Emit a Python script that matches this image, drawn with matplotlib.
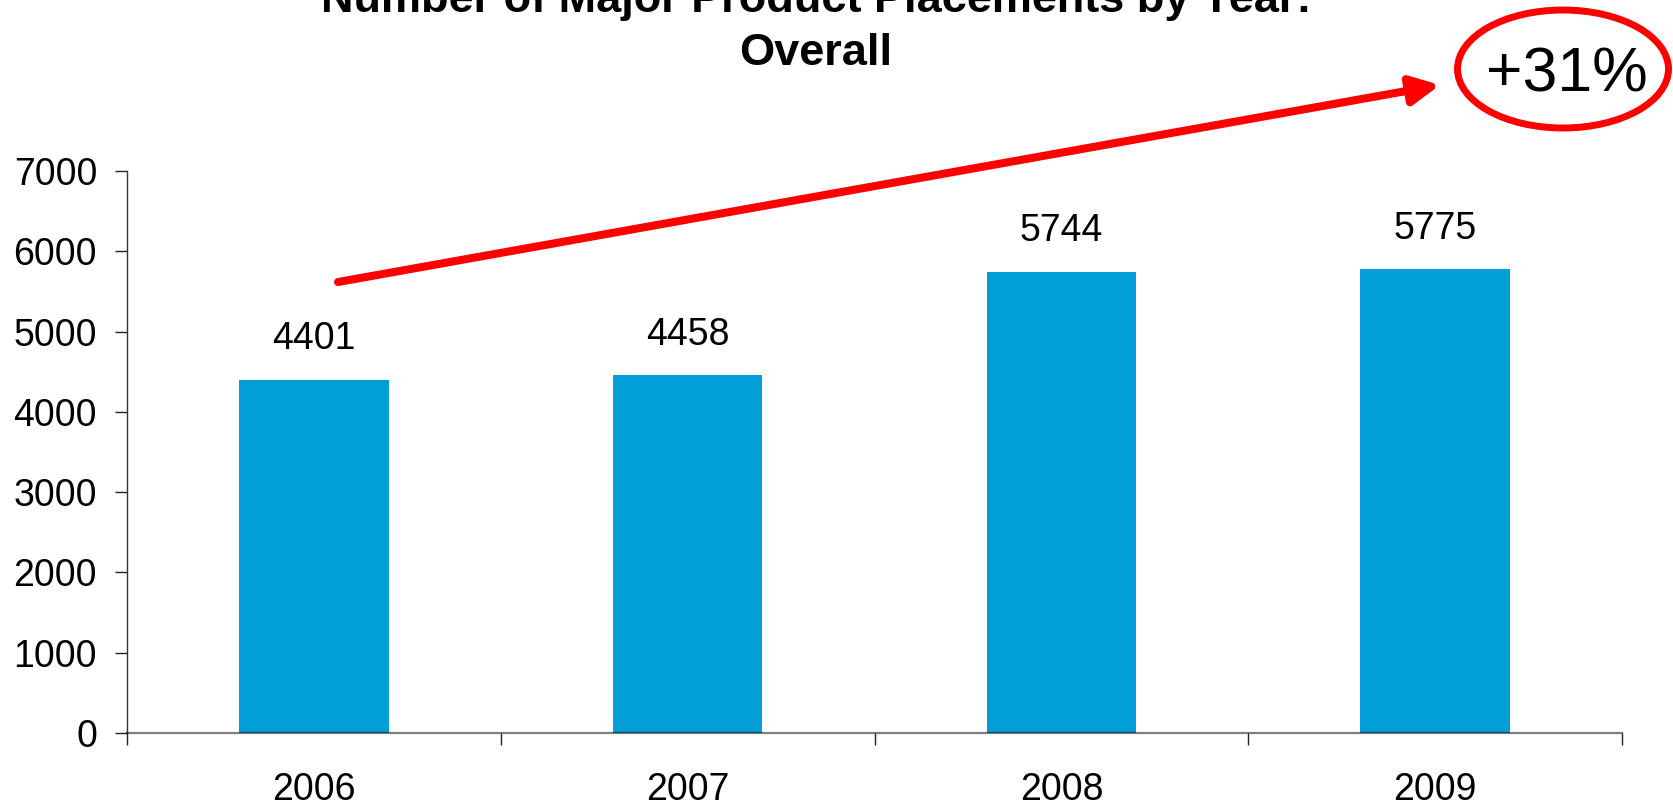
import numpy as np
import matplotlib
matplotlib.use("Agg")
import matplotlib.pyplot as plt
from matplotlib.patches import Ellipse, FancyArrowPatch

plt.rcParams['font.family'] = ['Liberation Sans', 'DejaVu Sans']

# Data
years = ["2006", "2007", "2008", "2009"]
placements = [4401, 4458, 5744, 5775]
y_ticks = [0, 1000, 2000, 3000, 4000, 5000, 6000, 7000]
title_lines = ["Number of Major Product Placements by Year:", "Overall"]
growth_label = "+31%"

W, H = 1673, 806
fig = plt.figure(figsize=(W / 100, H / 100), dpi=100)

def fx(px):
    return px / W

def fy(py):
    return 1 - py / H

ax = fig.add_axes([fx(127), fy(733), fx(1622) - fx(127), fy(171) - fy(733)])

x = np.arange(len(years))
ax.bar(x, placements, width=0.4, color="#029ED8", zorder=1)

ax.set_xlim(-0.5, len(years) - 0.5)
ax.set_ylim(0, 7000)
ax.set_yticks(y_ticks)
ax.set_yticklabels([str(t) for t in y_ticks])

# Category labels centred, ticks on the category boundaries
ax.set_xticks(x)
ax.set_xticklabels(years)
ax.set_xticks(np.arange(len(years) + 1) - 0.5, minor=True)
ax.tick_params(axis="x", which="major", length=0, pad=28, labelsize=27)
ax.tick_params(axis="x", which="minor", length=8.6, width=1.0, color="#222222")
ax.tick_params(axis="y", length=8.6, width=1.0, pad=13, labelsize=27, color="#222222")

for side in ("top", "right"):
    ax.spines[side].set_visible(False)
ax.spines["left"].set_color("#333333")
ax.spines["left"].set_linewidth(1.0)
ax.spines["bottom"].set_color((0, 0, 0, 0.5))
ax.spines["bottom"].set_linewidth(1.6)
ax.spines["bottom"].set_zorder(3)

# Value labels above the bars
for xi, v in zip(x, placements):
    ax.annotate(str(v), (xi, v), xytext=(0, 22), textcoords="offset points",
                ha="center", va="baseline", fontsize=27)

# Title (two lines)
fig.text(fx(816), fy(12), title_lines[0], ha="center", va="baseline",
         fontsize=32.5, fontweight="bold")
fig.text(fx(816), fy(65), title_lines[1], ha="center", va="baseline",
         fontsize=32.5, fontweight="bold")

# Growth arrow
fig.add_artist(FancyArrowPatch(
    (fx(338), fy(282)), (fx(1440), fy(85)),
    transform=fig.transFigure,
    arrowstyle="-|>,head_length=17,head_width=8.5",
    mutation_scale=1, color="#FF0000", linewidth=5.8,
    shrinkA=0, shrinkB=0))

# Circled growth figure
fig.add_artist(Ellipse((fx(1563), fy(69)), fx(211), 118 / H,
                       transform=fig.transFigure, fill=False,
                       edgecolor="#FF0000", linewidth=5))
fig.text(fx(1567), fy(92), growth_label, ha="center", va="baseline", fontsize=45)

fig.savefig("out.png", dpi=100, facecolor="white")
